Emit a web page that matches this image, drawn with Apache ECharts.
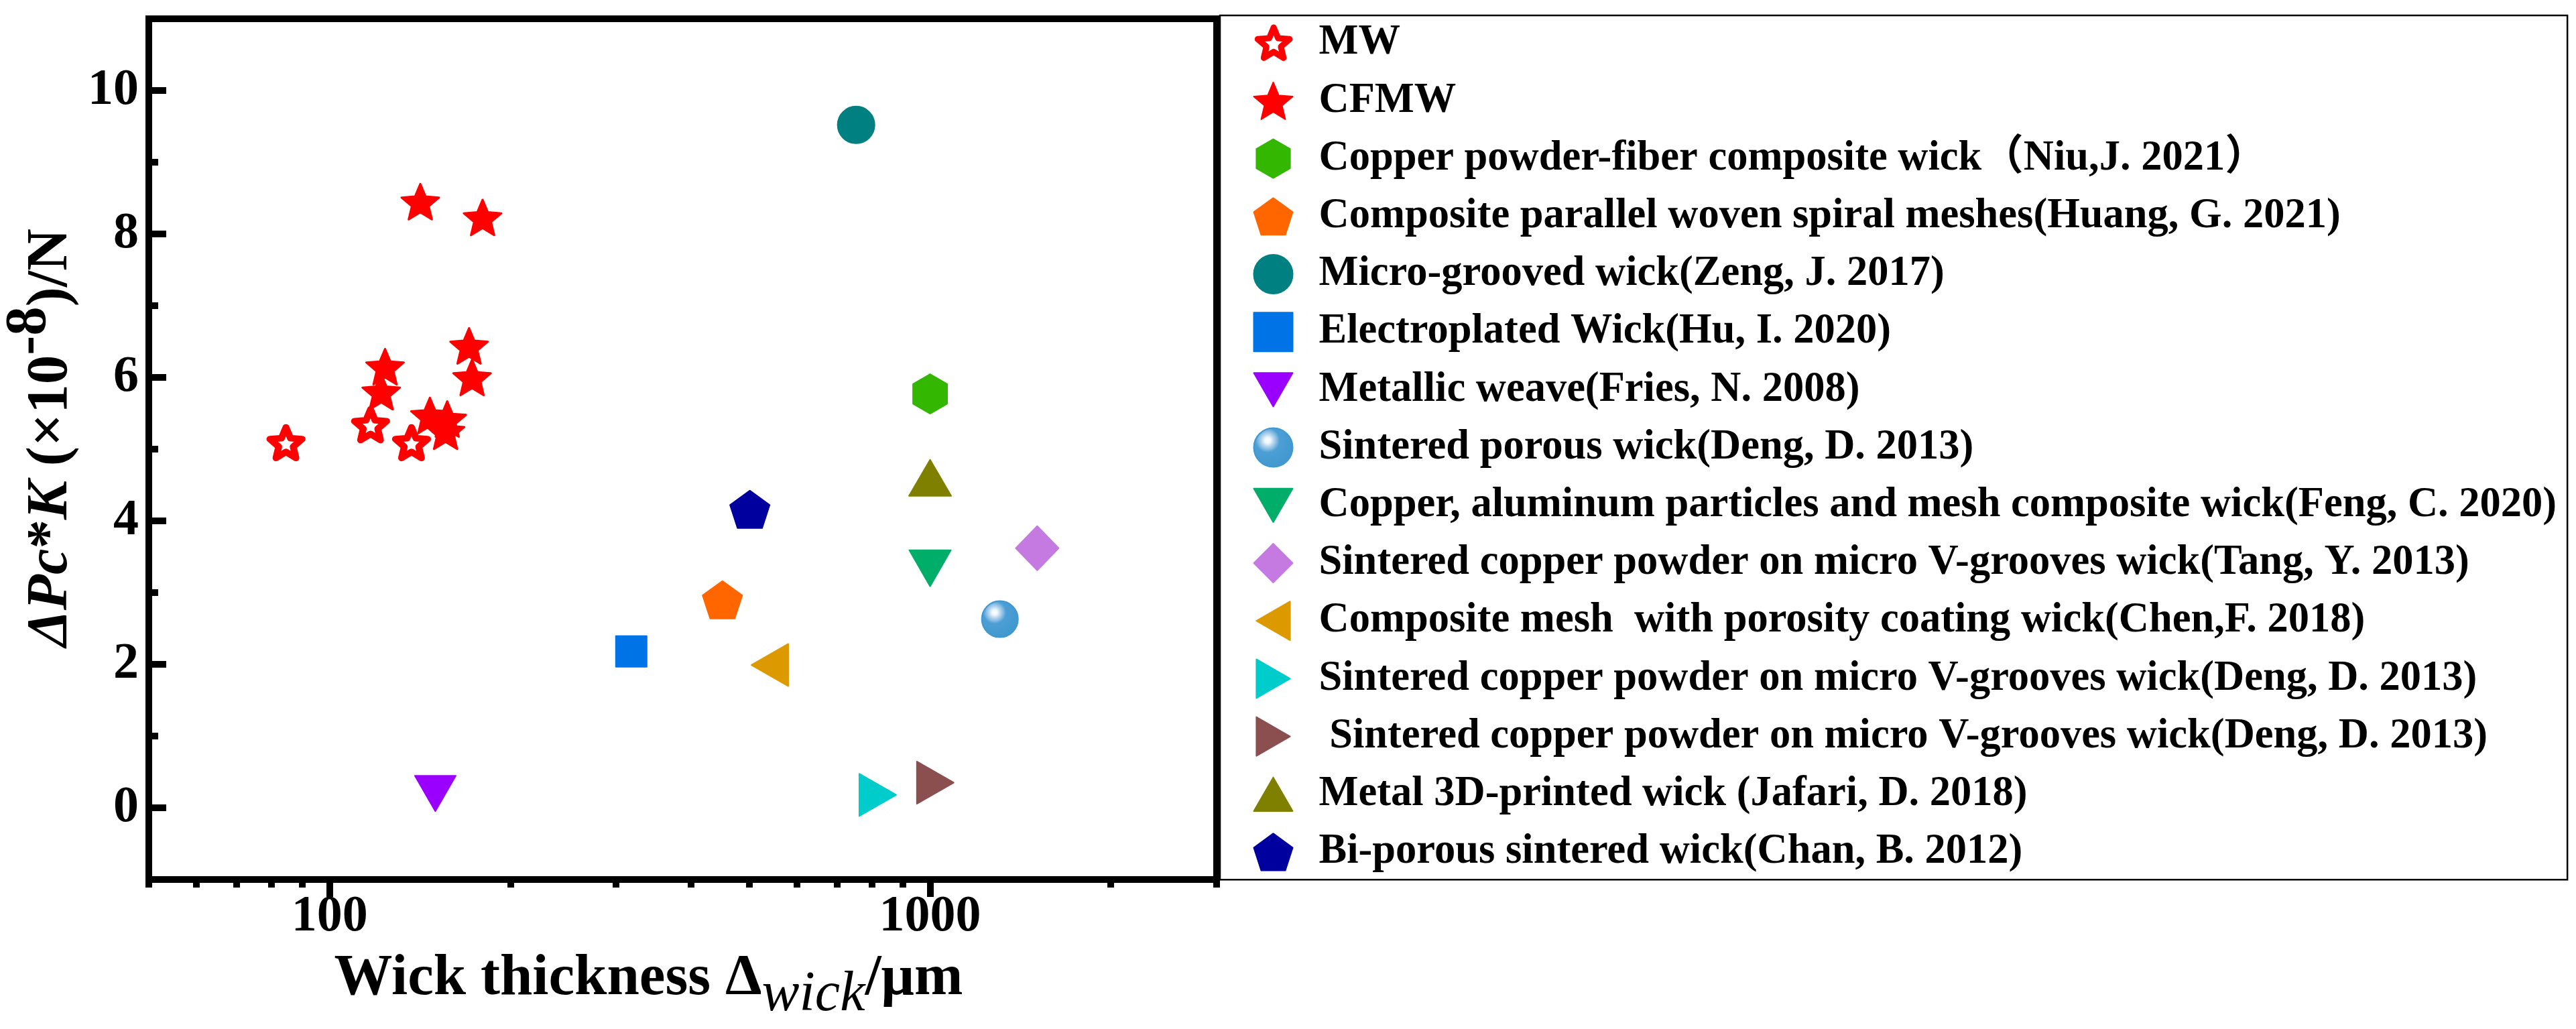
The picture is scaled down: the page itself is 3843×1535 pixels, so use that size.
<!DOCTYPE html>
<html><head><meta charset="utf-8">
<script src="https://cdn.jsdelivr.net/npm/echarts@6/dist/echarts.min.js"></script>
<style>html,body{margin:0;padding:0;background:#fff}#c{width:3843px;height:1535px}</style>
</head><body><div id="c"></div>
<script>
// ---- tick values ----
const xMajorTicks = [100, 1000];
const xMinorTicks = [50, 60, 70, 80, 90, 200, 300, 400, 500, 600, 700, 800, 900, 2000, 3000];
const yMajorTicks = [0, 2, 4, 6, 8, 10];
const yMinorTicks = [1, 3, 5, 7, 9];

// ---- series names ----
const seriesNames = [
  'MW',
  'CFMW',
  'Copper powder-fiber composite wick（Niu,J. 2021）',
  'Composite parallel woven spiral meshes(Huang, G. 2021)',
  'Micro-grooved wick(Zeng, J. 2017)',
  'Electroplated Wick(Hu, I. 2020)',
  'Metallic weave(Fries, N. 2008)',
  'Sintered porous wick(Deng, D. 2013)',
  'Copper, aluminum particles and mesh composite wick(Feng, C. 2020)',
  'Sintered copper powder on micro V-grooves wick(Tang, Y. 2013)',
  'Composite mesh  with porosity coating wick(Chen,F. 2018)',
  'Sintered copper powder on micro V-grooves wick(Deng, D. 2013)',
  ' Sintered copper powder on micro V-grooves wick(Deng, D. 2013)',
  'Metal 3D-printed wick (Jafari, D. 2018)',
  'Bi-porous sintered wick(Chan, B. 2012)'
];

// ---- data [wick thickness (um), dPc*K (x1e-8 N)] ----
const mwData = [[84.6, 5.09], [117, 5.34], [136.9, 5.09]];
const cfmwData = [[141.6, 8.45], [179.8, 8.23], [170.7, 6.44], [172.7, 6.0], [123.7, 6.15],
                  [121.9, 5.8], [146.9, 5.47], [157, 5.42], [156, 5.25]];
const niuData = [[1000, 5.77]];
const huangData = [[451, 2.9]];
const zengData = [[753, 9.52]];
const huData = [[318, 2.18]];
const friesData = [[150, 0.2]];
const dengPorousData = [[1307, 2.63]];
const fengData = [[1000, 3.34]];
const tangData = [[1508, 3.62]];
const chenData = [[541, 1.99]];
const dengCyanData = [[818, 0.18]];
const dengBrownData = [[1020, 0.35]];
const jafariData = [[1000, 4.6]];
const chanData = [[501, 4.16]];

const FONT = "'Liberation Serif', 'Times New Roman', 'Noto Sans CJK SC', serif";

const STAR = 'path://M50,0L63.23,31.8L97.55,34.55L71.4,56.95L79.39,90.45L50,72.5L20.61,90.45L28.6,56.95L2.45,34.55L36.77,31.8Z';
const STAR_LEGEND = 'path://M-9,-9L-9,-9M106.55,99.45L106.55,99.45M50,0L63.23,31.8L97.55,34.55L71.4,56.95L79.39,90.45L50,72.5L20.61,90.45L28.6,56.95L2.45,34.55L36.77,31.8Z';
const HEX = 'path://M50,0L93.3,25L93.3,75L50,100L6.7,75L6.7,25Z';
const PENT = 'path://M50,0L97.55,34.55L79.39,90.45L20.61,90.45L2.45,34.55Z';
const TRI_UP = 'path://M50,0L100,86.6L0,86.6Z';
const TRI_DOWN = 'path://M0,0L100,0L50,86.6Z';
const TRI_LEFT = 'path://M0,50L86.6,0L86.6,100Z';
const TRI_RIGHT = 'path://M0,0L86.6,50L0,100Z';

function S(name, data, symbol, size, color, style) {
  return {
    type: 'scatter', name: name, data: data, symbol: symbol, symbolSize: size,
    itemStyle: Object.assign({ color: color, borderColor: color, borderWidth: 2, borderJoin: 'round', opacity: 1 }, style || {}),
    emphasis: { disabled: true }
  };
}

const sphere = {
  type: 'radial', x: 0.36, y: 0.32, r: 0.72,
  colorStops: [
    { offset: 0, color: '#ffffff' }, { offset: 0.1, color: '#f0f7fc' },
    { offset: 0.2, color: '#bcd9ef' }, { offset: 0.3, color: '#8cbfe4' },
    { offset: 0.42, color: '#4c9fd4' }, { offset: 1, color: '#3f98cf' }
  ]
};

const series = [
  S(seriesNames[0], mwData, STAR, [48, 45.6], '#ff0000', { color: '#ffffff', borderColor: '#ff0000', borderWidth: 10 }),
  S(seriesNames[1], cfmwData, STAR, [56, 53], '#ff0000', { borderWidth: 3 }),
  S(seriesNames[2], niuData, HEX, [51, 59], '#33b700'),
  S(seriesNames[3], huangData, PENT, [59, 56], '#ff6600'),
  S(seriesNames[4], zengData, 'circle', 55, '#008080'),
  S(seriesNames[5], huData, 'rect', 46, '#0073e6'),
  S(seriesNames[6], friesData, TRI_DOWN, [61, 53], '#9900ff'),
  S(seriesNames[7], dengPorousData, 'circle', 54, '#3f98cf', { color: sphere, borderColor: '#3f98cf' }),
  S(seriesNames[8], fengData, TRI_DOWN, [62, 54], '#00ae69'),
  S(seriesNames[9], tangData, 'diamond', [64, 66], '#c47ae0'),
  S(seriesNames[10], chenData, TRI_LEFT, [55, 63], '#dd9900'),
  S(seriesNames[11], dengCyanData, TRI_RIGHT, [55, 63], '#00cccc'),
  S(seriesNames[12], dengBrownData, TRI_RIGHT, [55, 63], '#8c4f50'),
  S(seriesNames[13], jafariData, TRI_UP, [63, 54], '#808000'),
  S(seriesNames[14], chanData, PENT, [59, 56], '#00009f')
];

const legendData = seriesNames.map(function (n, i) {
  if (i === 0) {
    return { name: n, icon: STAR_LEGEND, itemStyle: { color: '#ffffff', borderColor: '#ff0000', borderWidth: 9, borderJoin: 'round' } };
  }
  return { name: n };
});

const chart = echarts.init(document.getElementById('c'), null, { renderer: 'canvas' });
chart.setOption({
  animation: false,
  backgroundColor: '#ffffff',
  grid: {
    left: 222, right: 2028, top: 28, bottom: 223,
    show: true, borderWidth: 10, borderColor: '#000', backgroundColor: 'transparent',
    containLabel: false, outerBoundsMode: 'none'
  },
  legend: {
    show: true, orient: 'vertical', left: 1820, top: 23,
    padding: [9, 16, 10, 46], itemGap: 23.7, itemWidth: 58, itemHeight: 58,
    borderColor: '#000', borderWidth: 2.5, backgroundColor: '#fff',
    data: legendData, selectedMode: false,
    textStyle: { fontFamily: FONT, fontSize: 62.5, fontWeight: 'bold', color: '#000', lineHeight: 58, padding: [0, 0, 0, 34] }
  },
  xAxis: [
    {
      type: 'log', logBase: 10, min: 50, max: 3000, position: 'bottom',
      axisLine: { show: true, onZero: false, lineStyle: { color: '#000', width: 10 } },
      axisTick: { show: true, inside: false, length: 26, customValues: xMajorTicks, lineStyle: { color: '#000', width: 10 } },
      axisLabel: { show: true, customValues: xMajorTicks, margin: 18, formatter: v => String(Math.round(v)),
        fontFamily: FONT, fontSize: 76, fontWeight: 'bold', color: '#000' },
      splitLine: { show: false }, minorTick: { show: false }, minorSplitLine: { show: false },
      name: '{b|Wick thickness Δ}{s|wick}{b|/μm}', nameLocation: 'middle', nameGap: 90,
      nameTextStyle: {
        padding: [0, 102, 0, 0],
        rich: {
          b: { fontFamily: FONT, fontSize: 87, fontWeight: 'bold', color: '#000', lineHeight: 100, height: 100 },
          s: { fontFamily: FONT, fontSize: 84, fontStyle: 'italic', fontWeight: 'normal', color: '#000', lineHeight: 52, height: 52, verticalAlign: 'bottom' }
        }
      }
    },
    {
      type: 'log', logBase: 10, min: 50, max: 3000, position: 'bottom',
      axisLine: { show: false, onZero: false },
      axisTick: { show: true, inside: false, length: 12, customValues: xMinorTicks, lineStyle: { color: '#000', width: 10 } },
      axisLabel: { show: false }, splitLine: { show: false }
    }
  ],
  yAxis: [
    {
      type: 'value', min: -1, max: 11, position: 'left',
      axisLine: { show: true, onZero: false, lineStyle: { color: '#000', width: 10 } },
      axisTick: { show: true, inside: true, length: 26, customValues: yMajorTicks, lineStyle: { color: '#000', width: 10 } },
      axisLabel: { show: true, customValues: yMajorTicks, margin: 15, padding: [0, 0, 14, 0],
        fontFamily: FONT, fontSize: 76, fontWeight: 'bold', color: '#000' },
      splitLine: { show: false },
      name: '{i|ΔPc}{b|*}{i|K}{b| (×10}{sup|-8}{b|)/N}', nameLocation: 'middle', nameRotate: 90, nameGap: 95,
      nameTextStyle: {
        padding: [0, 0, 0, 34],
        rich: {
          i: { fontFamily: FONT, fontSize: 87, fontWeight: 'bold', fontStyle: 'italic', color: '#000', lineHeight: 100, height: 100 },
          b: { fontFamily: FONT, fontSize: 87, fontWeight: 'bold', color: '#000', lineHeight: 100, height: 100 },
          sup: { fontFamily: FONT, fontSize: 87, fontWeight: 'bold', color: '#000', lineHeight: 36, height: 36, verticalAlign: 'top' }
        }
      }
    },
    {
      type: 'value', min: -1, max: 11, position: 'left',
      axisLine: { show: false, onZero: false },
      axisTick: { show: true, inside: true, length: 14, customValues: yMinorTicks, lineStyle: { color: '#000', width: 10 } },
      axisLabel: { show: false }, splitLine: { show: false }
    }
  ],
  series: series
});
</script>
</body></html>
